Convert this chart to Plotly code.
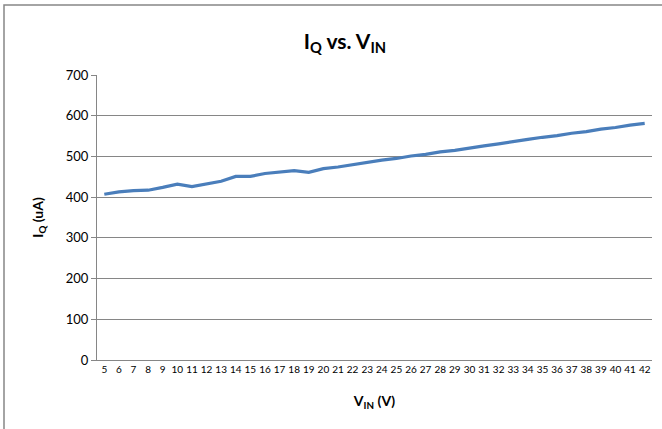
import plotly.graph_objects as go

vin = list(range(5, 43))
iq = [407, 413, 416, 417, 424, 432, 426, 433, 439, 451, 451, 458, 461, 465, 461,
      470, 474, 480, 485, 491, 495, 501, 505, 511, 515, 521, 526, 531, 537, 542,
      547, 551, 557, 561, 567, 571, 577, 581]

font = "Lato, 'Open Sans', sans-serif"

fig = go.Figure()
fig.add_trace(go.Scatter(x=vin, y=iq, mode="lines",
                         line=dict(color="#4A7EBB", width=3.2), showlegend=False))

fig.update_layout(
    width=662, height=429,
    margin=dict(l=97, r=10, t=75, b=69),
    paper_bgcolor="white", plot_bgcolor="white",
    font=dict(family=font, color="#000000"),
    title=dict(text="<b>I<sub>Q</sub> vs. V<sub>IN</sub></b>", x=0.521, xanchor="center",
               y=0.903, yanchor="middle", font=dict(size=21, family=font)),
    xaxis=dict(range=[4.5, 42.5], tickmode="array", tickvals=vin,
               ticktext=[str(v) for v in vin], tickfont=dict(size=10, family=font),
               showgrid=False, zeroline=False, showline=True, linecolor="#868686",
               linewidth=1, ticks="", ticklen=0,
               title=dict(text="<b>V<sub>IN</sub> (V)</b>", font=dict(size=14, family=font),
                          standoff=22)),
    yaxis=dict(range=[0, 700], dtick=100, tickfont=dict(size=13, family=font),
               showgrid=True, gridcolor="#868686", gridwidth=1, zeroline=False,
               showline=True, linecolor="#868686", linewidth=1,
               ticks="outside", ticklen=5, tickcolor="#868686",
               title=dict(text="<b>I<sub>Q</sub> (uA)</b>", font=dict(size=14, family=font),
                          standoff=18)),
)

fig.add_shape(type="rect", xref="paper", yref="paper",
              x0=(4 - 97) / 555, x1=1.2, y0=-0.5, y1=(360 - 5) / 285,
              line=dict(color="#868686", width=1.5), fillcolor="rgba(0,0,0,0)",
              layer="below")

fig.write_html("out.html", config={"displayModeBar": False},
               post_script="document.body.style.margin='0';document.body.style.overflow='hidden';")
